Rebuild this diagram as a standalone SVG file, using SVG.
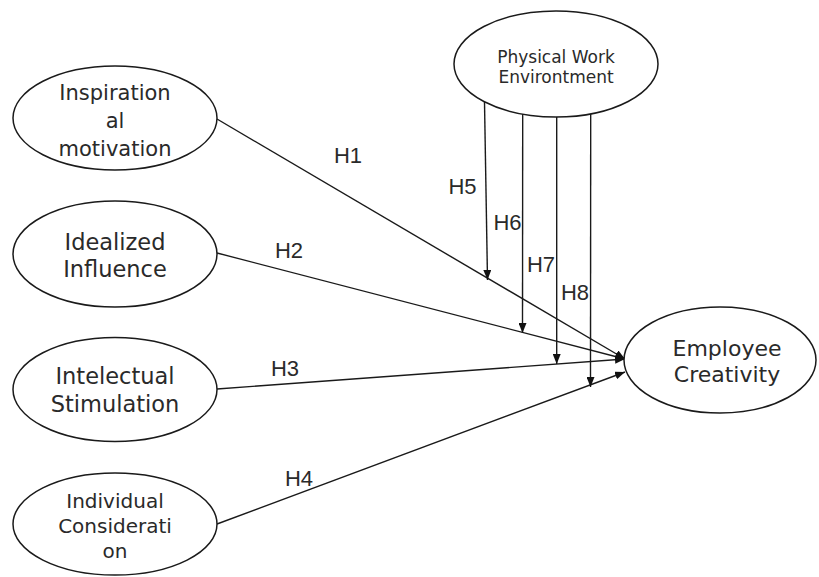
<svg xmlns="http://www.w3.org/2000/svg" width="819" height="577" viewBox="0 0 819 577">
<style>
.node ellipse{fill:#fff;stroke:#1a1a1a;stroke-width:1.5}
.t{font-family:"DejaVu Sans","Liberation Sans",sans-serif;fill:#2a2a2a;text-anchor:middle}
.lbl{font-family:"Liberation Sans",Arial,sans-serif;font-size:22px;fill:#2a2a2a;text-anchor:middle}
.edge{stroke:#1a1a1a;stroke-width:1.4;fill:none;marker-end:url(#ah)}
</style>
<defs>
<marker id="ah" markerUnits="userSpaceOnUse" markerWidth="10" markerHeight="8" refX="10" refY="4" orient="auto">
<path d="M0,0 L10,4 L0,8 z" fill="#111"/>
</marker>
</defs>
<rect width="819" height="577" fill="#fff"/>
<g id="connectors">
<line class="edge" x1="217" y1="119" x2="625" y2="359"/>
<line class="edge" x1="217" y1="253" x2="625" y2="359"/>
<line class="edge" x1="217" y1="389" x2="625" y2="359"/>
<line class="edge" x1="217" y1="524" x2="625" y2="372"/>
<line class="edge" x1="484.5" y1="102" x2="487.5" y2="280"/>
<line class="edge" x1="522.7" y1="114" x2="522.5" y2="333"/>
<line class="edge" x1="556.7" y1="117" x2="556.7" y2="364"/>
<line class="edge" x1="590.7" y1="114" x2="590.5" y2="387"/>
</g>
<g id="labels">
<text class="lbl" x="348" y="163">H1</text>
<text class="lbl" x="289" y="258">H2</text>
<text class="lbl" x="285" y="376">H3</text>
<text class="lbl" x="299" y="486">H4</text>
<text class="lbl" x="462.5" y="194">H5</text>
<text class="lbl" x="507.5" y="230">H6</text>
<text class="lbl" x="541" y="271.5">H7</text>
<text class="lbl" x="575" y="300">H8</text>
</g>
<g id="inspirational-motivation" class="node">
<ellipse cx="115" cy="118" rx="102" ry="52"/>
<text class="t" font-size="21" x="115" y="100">Inspiration</text>
<text class="t" font-size="21" x="115" y="128">al</text>
<text class="t" font-size="21" x="115" y="156">motivation</text>
</g>
<g id="idealized-influence" class="node">
<ellipse cx="115" cy="254" rx="102" ry="53"/>
<text class="t" font-size="22.5" x="115" y="250">Idealized</text>
<text class="t" font-size="22.5" x="115" y="277">Influence</text>
</g>
<g id="intelectual-stimulation" class="node">
<ellipse cx="115" cy="389.5" rx="102" ry="52"/>
<text class="t" font-size="22.5" x="115" y="384">Intelectual</text>
<text class="t" font-size="22.5" x="115" y="412">Stimulation</text>
</g>
<g id="individual-consideration" class="node">
<ellipse cx="115" cy="524" rx="102" ry="51"/>
<text class="t" font-size="20" x="115" y="508">Individual</text>
<text class="t" font-size="20" x="115" y="533">Considerati</text>
<text class="t" font-size="20" x="115" y="558">on</text>
</g>
<g id="physical-work-environment" class="node">
<ellipse cx="556" cy="64" rx="102" ry="53"/>
<text class="t" font-size="17" x="556" y="63">Physical Work</text>
<text class="t" font-size="17" x="556" y="83">Environtment</text>
</g>
<g id="employee-creativity" class="node">
<ellipse cx="720" cy="360" rx="96" ry="53"/>
<text class="t" font-size="22" x="727" y="356">Employee</text>
<text class="t" font-size="22" x="727" y="382">Creativity</text>
</g>
</svg>
